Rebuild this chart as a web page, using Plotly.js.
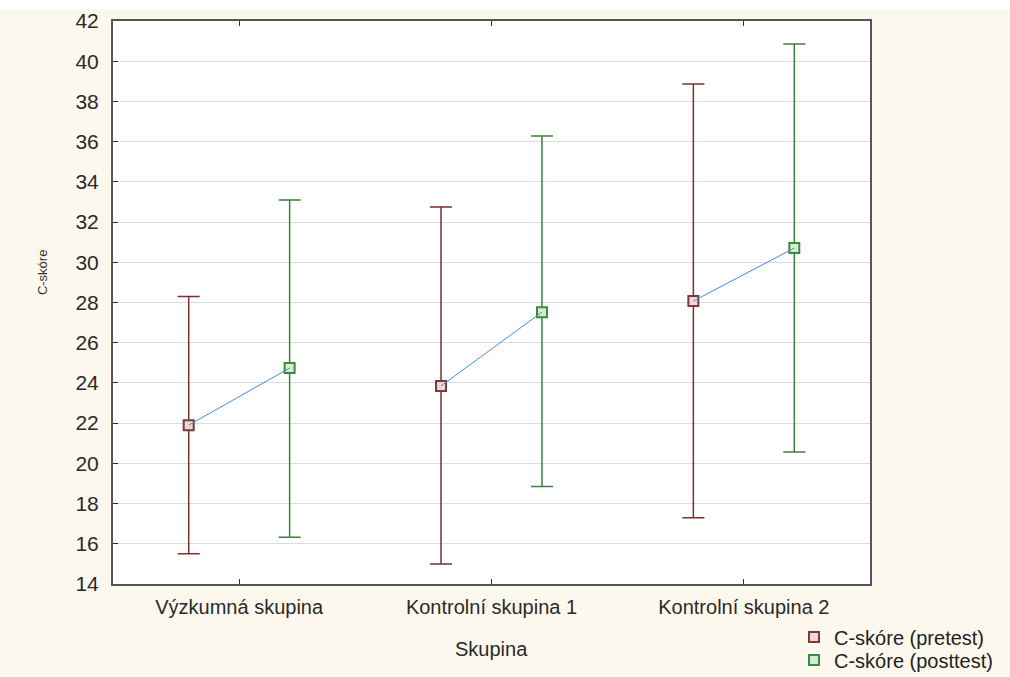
<!DOCTYPE html>
<html><head><meta charset="utf-8">
<script src="https://cdn.plot.ly/plotly-3.0.1.min.js"></script>
<style>html,body{margin:0;padding:0;background:#fdf8ed;}#chart{width:1010px;height:677px;}</style>
</head><body><div id="chart"></div>
<script>
const categories = ["Výzkumná skupina", "Kontrolní skupina 1", "Kontrolní skupina 2"];
const preMean = [21.9, 23.85, 28.07];
const preUpper = [28.3, 32.75, 38.87];
const preLower = [15.5, 15.0, 17.3];
const postMean = [24.74, 27.52, 30.71];
const postUpper = [33.1, 36.28, 40.86];
const postLower = [16.33, 18.85, 20.56];
const yTicks = [14,16,18,20,22,24,26,28,30,32,34,36,38,40,42];
const seriesNames = ["C-skóre (pretest)", "C-skóre (posttest)"];

const off = 0.2;
const idx = categories.map((c,i)=>i);
const xPre = idx.map(i=>i-off);
const xPost = idx.map(i=>i+off);

const lineX = [], lineY = [];
idx.forEach(i=>{ lineX.push(xPre[i], xPost[i], null); lineY.push(preMean[i], postMean[i], null); });

const traces = [
  {x: xPre, y: preMean, name: seriesNames[0], mode:'markers', legend:'legend',
   marker:{symbol:'square', size:10, color:'#ecd6d6', line:{color:'#7d3a3a', width:2}},
   error_y:{type:'data', symmetric:false, array: preUpper.map((u,i)=>u-preMean[i]), arrayminus: preMean.map((m,i)=>m-preLower[i]), color:'#7a3030', thickness:1.5, width:11}},
  {x: xPost, y: postMean, name: seriesNames[1], mode:'markers', legend:'legend2',
   marker:{symbol:'square', size:10, color:'#d6ecd0', line:{color:'#3c8a3c', width:2}},
   error_y:{type:'data', symmetric:false, array: postUpper.map((u,i)=>u-postMean[i]), arrayminus: postMean.map((m,i)=>m-postLower[i]), color:'#3a823a', thickness:1.5, width:11}},
  {x: lineX, y: lineY, mode:'lines', line:{color:'#3d8fe0', width:1}, showlegend:false, hoverinfo:'skip'}
];

const legendBase = {x:0.8996, xanchor:'left', yanchor:'middle', bgcolor:'rgba(0,0,0,0)',
          font:{size:20, color:'#222'}, itemwidth:30};

const layout = {
  width:1010, height:677,
  paper_bgcolor:'#fdf8ed', plot_bgcolor:'#ffffff',
  margin:{l:113, r:140, t:21, b:93, autoexpand:false},
  font:{family:'Liberation Sans, Arial, sans-serif', color:'#2a2a2a'},
  xaxis:{range:[-0.5,2.5], tickmode:'array', tickvals: idx, ticktext: categories,
         ticks:'inside', ticklen:5, tickcolor:'#333', showgrid:false, zeroline:false,
         showline:true, linecolor:'#555', linewidth:2, mirror:'ticks',
         tickfont:{size:20, color:'#2a2a2a'}, ticklabelstandoff:4},
  yaxis:{range:[14,42], tickmode:'array', tickvals: yTicks, ticktext: yTicks.map(String),
         ticks:'inside', ticklen:5, tickcolor:'#333', showgrid:true, gridcolor:'#dcdcdc', gridwidth:1,
         zeroline:false, showline:true, linecolor:'#555', linewidth:2, mirror:true,
         tickfont:{size:21, color:'#2a2a2a'}, ticklabelstandoff:8},
  legend: Object.assign({}, legendBase, {y:(584-637)/563}),
  legend2: Object.assign({}, legendBase, {y:(584-660)/563}),
  annotations:[
    {text:'C-skóre', xref:'paper', yref:'paper', x:(42-113)/757, xanchor:'center', y:0.554, showarrow:false, textangle:-90, font:{size:13, color:'#333'}},
    {text:'Skupina', xref:'paper', yref:'paper', x:0.5, y:-0.1155, yanchor:'middle', showarrow:false, font:{size:20, color:'#2a2a2a'}}
  ],
  shapes:[{type:'rect', xref:'paper', yref:'paper', x0:-0.2, x1:1.2, y0:(584-9)/563, y1:(584)/563, fillcolor:'#ffffff', line:{width:0}, layer:'below'}],
  showlegend:true
};
Plotly.newPlot('chart', traces, layout, {displayModeBar:false, staticPlot:true});
</script></body></html>
